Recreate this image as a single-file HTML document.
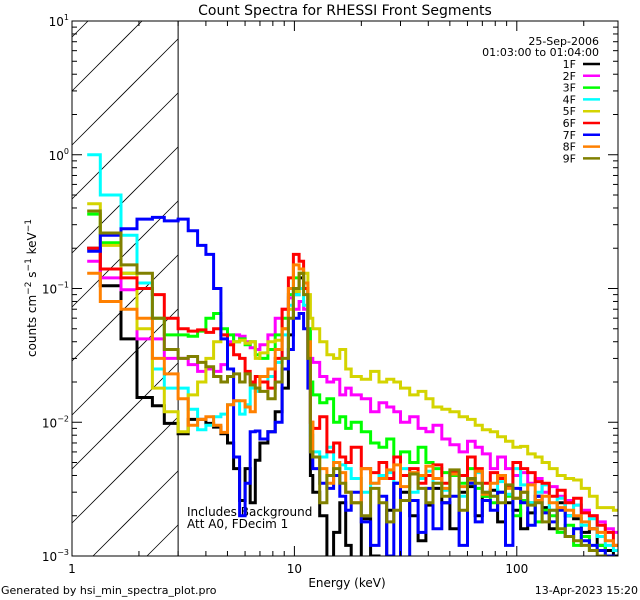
<!DOCTYPE html>
<html><head><meta charset="utf-8"><style>
html,body{margin:0;padding:0;background:#fff;width:640px;height:600px;overflow:hidden;}
svg{display:block;font-family:"DejaVu Sans","Liberation Sans",sans-serif;}
</style></head><body>
<svg id="chart" width="640" height="600" viewBox="0 0 640 600" xmlns="http://www.w3.org/2000/svg">
<rect width="640" height="600" fill="#fff"/>
<text x="345" y="15" font-size="14" text-anchor="middle">Count Spectra for RHESSI Front Segments</text>
<text x="347" y="587" font-size="12" text-anchor="middle">Energy (keV)</text>
<text transform="translate(36,288) rotate(-90)" font-size="12" text-anchor="middle">counts cm<tspan dy="-5" font-size="9">−2</tspan><tspan dy="5"> s</tspan><tspan dy="-5" font-size="9">−1</tspan><tspan dy="5"> keV</tspan><tspan dy="-5" font-size="9">−1</tspan></text>
<text x="1" y="594" font-size="11">Generated by hsi_min_spectra_plot.pro</text>
<text x="638" y="594" font-size="11" text-anchor="end">13-Apr-2023 15:20</text>
<text x="187" y="516" font-size="12">Includes Background</text>
<text x="187" y="528" font-size="12">Att A0, FDecim 1</text>
<text x="599" y="45" font-size="11" text-anchor="end">25-Sep-2006</text>
<text x="599" y="56" font-size="11" text-anchor="end">01:03:00 to 01:04:00</text>
<defs><clipPath id="plotclip"><rect x="72" y="21" width="546" height="535"/></clipPath></defs>
<g id="hatch"></g>
<g id="series" clip-path="url(#plotclip)"></g>
<g id="axes"></g>
<g id="legend"></g>
</svg>
<script>
const edges = [1.17,1.34,1.66,1.96,2.3,2.6,3.0,3.33,3.67,4,4.33,4.67,5,5.33,5.67,6,6.33,6.67,7,7.6,8.2,8.8,9.4,9.9,10.5,11,11.5,11.8,12.1,13,14,15,16,17,18,20,22,24,26,28,30,33,36,39,42,46,50,55,60,65,70,76,82,89,96,104,112,121,130,140,152,165,180,195,212,230,250,272,300];
const names = ["1F","2F","3F","4F","5F","6F","7F","8F","9F"];
const colors = ["#000000","#ff00ff","#00ff00","#00ffff","#d4d400","#ff0000","#0000ff","#ff8000","#808000"];
const s1F = [.2,.105,.042,.0153,.0133,.0098, .0082,.0105,.0105,.0098,.0092,.0082,.007,.0045,.0026,.0045,.0025,.0052,.007,.0085,.012,.018,.045,.09,.12,.1,.03,.004, .003,.002,.0009,.0015,.0025,.0012,.0008,.0019,.001,.0008,.0022,.0035,.003,.002,.0013,.0024,.0032,.0025,.0016,.003,.0033,.002,.0028,.0031,.0018,.0025,.0022,.0016,.0021,.0028,.0023,.0016,.0025,.002,.0019,.0015,.0016,.0012,.0011,.001];
const s2F = [.16,.12,.098,.042,.042,.03, .03,.027,.024,.025,.024,.027,.04,.045,.044,.04,.036,.035,.038,.045,.06,.07,.085,.07,.08,.07,.05,.03, .028,.022,.02,.021,.016,.018,.016,.015,.012,.014,.013,.012,.01,.011,.009,.0085,.0095,.0075,.0068,.006,.0072,.0065,.0058,.0045,.0055,.0045,.004,.0042,.0035,.0038,.003,.0033,.0028,.0026,.0024,.0022,.002,.0018,.0016,.0015];
const s3F = [.36,.22,.13,.1,.06,.045, .045,.044,.048,.06,.065,.05,.045,.04,.042,.038,.04,.032,.03,.035,.045,.06,.09,.12,.13,.1,.05,.02, .016,.014,.015,.01,.011,.009,.01,.0085,.007,.0065,.0075,.0055,.006,.005,.0065,.005,.0045,.0042,.004,.0035,.0045,.0032,.0028,.0025,.003,.0028,.002,.0026,.0025,.0018,.0022,.002,.0015,.0017,.0012,.0014,.0011,.0012,.001,.0009];
const s4F = [1.0,.5,.25,.11,.025,.018, .018,.0125,.0088,.0095,.011,.0115,.0135,.0145,.0115,.0135,.018,.017,.02,.022,.028,.045,.075,.09,.1,.075,.03,.008, .006,.0055,.0065,.004,.0048,.0045,.0038,.003,.0035,.004,.0042,.0035,.0045,.003,.0038,.0043,.0035,.0031,.0043,.0028,.0035,.0042,.003,.0028,.0036,.0029,.0045,.0034,.0025,.003,.0034,.0022,.0027,.002,.0024,.0017,.0019,.0014,.0012,.0011];
const s5F = [.43,.21,.13,.05,.018,.012, .0085,.016,.02,.03,.04,.045,.038,.04,.041,.039,.04,.03,.033,.04,.041,.05,.07,.095,.13,.13,.09,.06, .05,.04,.032,.03,.035,.025,.022,.021,.024,.02,.021,.02,.018,.016,.017,.015,.013,.0125,.012,.011,.0105,.0095,.0088,.0085,.0078,.0072,.0065,.0066,.0058,.0055,.005,.0045,.004,.0038,.0037,.0032,.0028,.0023,.0023,.0022];
const s6F = [.2,.14,.12,.1,.09,.06, .05,.048,.049,.047,.05,.045,.038,.032,.03,.024,.02,.022,.02,.018,.03,.07,.12,.18,.16,.1,.03,.01, .009,.011,.006,.007,.0055,.005,.0065,.0045,.0042,.005,.0038,.0055,.004,.0045,.0035,.004,.0048,.0035,.0042,.004,.0055,.0045,.0035,.0042,.0038,.0033,.005,.0045,.0042,.0036,.0035,.0028,.0031,.0025,.0027,.0021,.002,.0017,.0015,.0012];
const s7F = [.19,.25,.28,.33,.34,.32, .33,.27,.21,.18,.1,.042,.025,.0055,.002,.0035,.0085,.0086,.0075,.0085,.01,.025,.035,.06,.065,.05,.018,.006, .0045,.0035,.0032,.004,.0028,.0022,.003,.0018,.0012,.0028,.001,.0035,.0008,.0026,.0015,.0032,.0016,.0025,.0028,.0012,.0035,.0018,.0026,.0022,.003,.0012,.0032,.0025,.0017,.0028,.0021,.0018,.0022,.0014,.0016,.0013,.0012,.0011,.001,.0009];
const s8F = [.13,.08,.07,.06,.03,.023, .015,.0095,.0105,.011,.0095,.0084,.0135,.0145,.0145,.013,.012,.018,.022,.025,.035,.05,.1,.15,.14,.11,.04,.01, .0055,.0045,.0035,.005,.0042,.003,.0025,.0045,.0035,.0038,.0044,.0048,.0033,.0042,.004,.0047,.0038,.0032,.0041,.0033,.0037,.0043,.0029,.0035,.004,.0032,.0027,.003,.0034,.0026,.0028,.0025,.0023,.0022,.002,.0018,.0016,.0015,.0013,.0012];
const s9F = [.38,.26,.15,.13,.06,.035, .03,.031,.028,.026,.022,.02,.022,.023,.02,.023,.019,.018,.017,.015,.02,.03,.06,.1,.13,.09,.03,.006, .0055,.0025,.004,.0045,.0035,.003,.0025,.002,.0032,.0025,.0018,.0022,.0026,.0041,.0032,.0025,.0035,.0028,.0044,.0022,.0038,.0035,.003,.0028,.0025,.0034,.0027,.003,.0024,.0025,.0018,.0022,.0016,.0014,.0013,.0012,.0011,.001,.0009,.0008];
const seriesData = [s1F,s2F,s3F,s4F,s5F,s6F,s7F,s8F,s9F];
const xTickLabels = ["1","10","100"];
const yTickExps = ["1","0","-1","-2","-3"];

const NS = "http://www.w3.org/2000/svg";
const L=72,R=618,T=21,B=556, XMIN=1, XMAX=Math.pow(10,(R-L)/222.4), YMIN=1e-3, YMAX=10;
function xs(e){return L+(Math.log10(e)-Math.log10(XMIN))/(Math.log10(XMAX)-Math.log10(XMIN))*(R-L);}
function ys(v){return B-(Math.log10(v)-Math.log10(YMIN))/(Math.log10(YMAX)-Math.log10(YMIN))*(B-T);}
function yc(v){return Math.min(B+2,Math.max(T-2,ys(v)));}
function mk(tag,attrs,parent){const e=document.createElementNS(NS,tag);for(const k in attrs)e.setAttribute(k,attrs[k]);parent.appendChild(e);return e;}

const hatch=document.getElementById('hatch');
const hx=xs(3);
for(let c=T-200;c<B+200;c+=54){
  // line: y = c - (x - L)
  let xa=L, ya=c;
  if(ya>B){xa=L+(ya-B);ya=B;}
  let xb=hx, yb=c-(hx-L);
  if(yb<T){xb=L+(c-T);yb=T;}
  if(xa>=xb||xa>hx||xb<L)continue;
  const ln=mk('line',{x1:xa,y1:ya,x2:xb,y2:yb,stroke:'#000','stroke-width':0.8},hatch);
  
  
}
const vl=mk('line',{x1:hx,y1:T,x2:hx,y2:B,stroke:'#000','stroke-width':1},hatch);



const sg=document.getElementById('series');
seriesData.forEach((vals,i)=>{
  let d='';
  for(let b=0;b<vals.length;b++){
    const x0=xs(edges[b]).toFixed(1),x1=Math.min(R,xs(edges[b+1])).toFixed(1),y=yc(vals[b]).toFixed(1);
    d+=(b===0?'M':'L')+x0+','+y+'L'+x1+','+y;
  }
  const p=mk('path',{d:d,fill:'none',stroke:colors[i],'stroke-width':3,'stroke-linejoin':'miter'},sg);
  
  
});

const ax=document.getElementById('axes');
const frame=mk('rect',{x:L,y:T,width:R-L,height:B-T,fill:'none',stroke:'#000','stroke-width':1},ax);


for(let dec=0;dec<3;dec++){
  for(let m=1;m<10;m++){
    const e=Math.pow(10,dec)*m; if(e>XMAX)break;
    const x=xs(e), len=m===1?10:5;
    mk('line',{x1:x,y1:B,x2:x,y2:B-len,stroke:'#000'},ax);
    mk('line',{x1:x,y1:T,x2:x,y2:T+len,stroke:'#000'},ax);
  }
}
xTickLabels.forEach(t=>{
  const tx=mk('text',{x:xs(parseFloat(t)),y:B+17,'font-size':12,'text-anchor':'middle'},ax);
  tx.textContent=t;
  
  
});
for(let dec=-3;dec<1;dec++){
  for(let m=1;m<10;m++){
    const v=Math.pow(10,dec)*m; const y=ys(v), len=m===1?10:5;
    mk('line',{x1:L,y1:y,x2:L+len,y2:y,stroke:'#000'},ax);
    mk('line',{x1:R,y1:y,x2:R-len,y2:y,stroke:'#000'},ax);
  }
}
yTickExps.forEach(ex=>{
  const y=ys(Math.pow(10,parseFloat(ex)));
  const tx=mk('text',{x:L-3,y:y+5,'font-size':12,'text-anchor':'end'},ax);
  
  
  const t1=mk('tspan',{},tx); t1.textContent='10';
  const t2=mk('tspan',{dy:-6,'font-size':8},tx); t2.textContent=ex.replace('-','−');
});

const lg=document.getElementById('legend');
names.forEach((n,i)=>{
  const y=64+i*11.8;
  const g=mk('g',{},lg);
  
  
  const t=mk('text',{x:576,y:y+4,'font-size':11,'text-anchor':'end'},g); t.textContent=n;
  mk('line',{x1:583,y1:y,x2:600,y2:y,stroke:colors[i],'stroke-width':2.5},g);
});
</script>
</body></html>
